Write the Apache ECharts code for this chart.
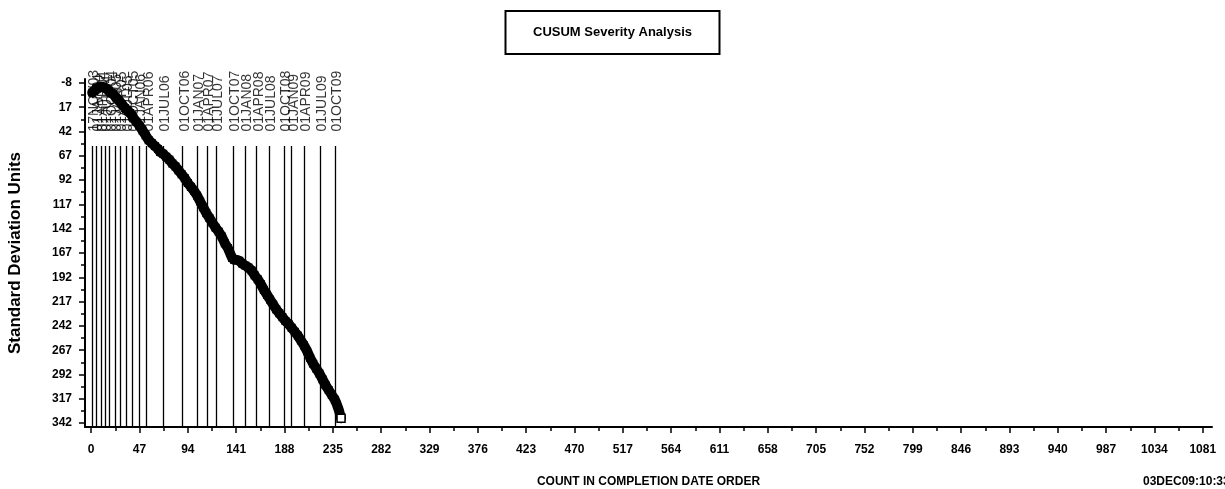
<!DOCTYPE html>
<html>
<head>
<meta charset="utf-8">
<script src="https://cdn.jsdelivr.net/npm/echarts@6/dist/echarts.min.js"></script>
<style>
  html, body { margin: 0; padding: 0; background: #fff; }
  #chart { width: 1225px; height: 489px; }
</style>
</head>
<body>
<div id="chart"></div>
<script>
// Cumulative severity sum, in standard deviation units, by completion count
const cusumPoints = [
  [1, 2], [3, 0], [5, -2], [7, -3], [9, -4], [11, -4], [13, -3], [15, -2],
  [17, 0], [19, 2], [21, 3], [24, 7], [27, 10], [30, 14], [33, 18], [36, 21],
  [38, 23], [41, 28], [44, 32], [47, 36], [50, 41], [53, 46], [56, 51], [59, 54],
  [62, 57], [65, 60], [67, 63], [70, 65], [73, 68], [76, 71], [79, 75], [82, 78],
  [85, 82], [88, 86], [91, 90], [94, 95], [97, 99], [100, 103], [103, 108], [106, 114],
  [109, 120], [112, 126], [115, 131], [118, 136], [121, 141], [124, 145], [127, 150], [130, 157],
  [133, 162], [135, 167], [137, 172], [139, 174], [141, 174], [144, 175], [147, 178], [150, 180],
  [153, 182], [156, 185], [159, 190], [162, 194], [165, 199], [168, 205], [171, 210], [174, 215],
  [177, 220], [180, 225], [183, 229], [186, 233], [189, 237], [192, 240], [195, 244], [198, 248],
  [201, 252], [204, 257], [207, 262], [210, 268], [213, 275], [216, 281], [219, 286], [222, 291],
  [225, 297], [228, 303], [231, 308], [234, 313], [237, 318], [239, 323], [241, 329], [243, 337]
];

// Quarter-start reference dates and the completion count where each falls
const refDates = [
  '17NOV03', '01JAN04', '01APR04', '01JUL04', '01OCT04', '01JAN05', '01APR05', '01JUL05',
  '01OCT05', '01JAN06', '01APR06', '01JUL06', '01OCT06', '01JAN07', '01APR07', '01JUL07',
  '01OCT07', '01JAN08', '01APR08', '01JUL08', '01OCT08', '01JAN09', '01APR09', '01JUL09', '01OCT09'
];
const refCounts = [
  1, 5, 10, 14, 18, 23, 28, 34,
  40, 47, 54, 70, 89, 103, 113, 122,
  138, 150, 161, 173, 188, 195, 207, 223, 237
];

// Axis tick values
const xTicks = [0, 47, 94, 141, 188, 235, 282, 329, 376, 423, 470, 517, 564, 611, 658, 705, 752, 799, 846, 893, 940, 987, 1034, 1081];
const xMinorTicks = [23.5, 70.5, 117.5, 164.5, 211.5, 258.5, 305.5, 352.5, 399.5, 446.5, 493.5, 540.5, 587.5, 634.5, 681.5, 728.5, 775.5, 822.5, 869.5, 916.5, 963.5, 1010.5, 1057.5];
const yTicks = [-8, 17, 42, 67, 92, 117, 142, 167, 192, 217, 242, 267, 292, 317, 342];
const yMinorTicks = [4.5, 29.5, 54.5, 79.5, 104.5, 129.5, 154.5, 179.5, 204.5, 229.5, 254.5, 279.5, 304.5, 329.5];

const FONT = '"Liberation Sans", Arial, sans-serif';
const REF_TOP = 57;     // upper end of the reference lines (y units)
const REF_LABEL_Y = 42; // base of the rotated date labels (y units)
const X_RANGE = [-6, 1090];
const Y_RANGE = [-12, 346];

const chart = echarts.init(document.getElementById('chart'), null, { renderer: 'canvas' });

const lastIdx = cusumPoints.length - 1;
const curveData = cusumPoints.map((p, i) => i === lastIdx
  ? { value: p, itemStyle: { color: '#fff', borderColor: '#000', borderWidth: 1.5 } }
  : { value: p });

const axisLineStyle = { color: '#000', width: 2 };
const tickLine = { color: '#000', width: 1.5 };
const gridBox = { left: 85, right: 13, top: 79, bottom: 62, containLabel: false, outerBoundsMode: 'none' };
const plain = v => String(v);

chart.setOption({
  animation: false,
  backgroundColor: '#fff',
  title: [
    {
      text: 'CUSUM Severity Analysis',
      left: 'center',
      top: 11,
      padding: [15, 28],
      borderWidth: 2,
      borderColor: '#000',
      textStyle: { fontFamily: FONT, fontSize: 13, fontWeight: 'bold', color: '#000' }
    },
    {
      text: '03DEC09:10:33',
      left: 1143,
      top: 476,
      padding: 0,
      textStyle: { fontFamily: FONT, fontSize: 12, fontWeight: 'bold', color: '#000' }
    }
  ],
  // grid 0 carries the data and major ticks; grid 1 overlays it for the minor ticks
  grid: [gridBox, Object.assign({}, gridBox)],
  xAxis: [
    {
      type: 'value',
      gridIndex: 0,
      min: X_RANGE[0],
      max: X_RANGE[1],
      position: 'bottom',
      name: 'COUNT IN COMPLETION DATE ORDER',
      nameLocation: 'middle',
      nameGap: 49,
      nameTextStyle: { fontFamily: FONT, fontSize: 12, fontWeight: 'bold', color: '#000' },
      axisLine: { show: true, onZero: false, lineStyle: axisLineStyle },
      axisTick: { show: true, length: 6, customValues: xTicks, lineStyle: tickLine },
      axisLabel: { show: true, customValues: xTicks, formatter: plain, margin: 17, fontFamily: FONT, fontSize: 12, fontWeight: 'bold', color: '#000' },
      splitLine: { show: false }
    },
    {
      type: 'value',
      gridIndex: 1,
      min: X_RANGE[0],
      max: X_RANGE[1],
      position: 'bottom',
      axisLine: { show: false, onZero: false },
      axisTick: { show: true, length: 4, customValues: xMinorTicks, lineStyle: tickLine },
      axisLabel: { show: false },
      splitLine: { show: false }
    }
  ],
  yAxis: [
    {
      type: 'value',
      gridIndex: 0,
      inverse: true,
      min: Y_RANGE[0],
      max: Y_RANGE[1],
      position: 'left',
      name: 'Standard Deviation Units',
      nameLocation: 'middle',
      nameGap: 61,
      nameTextStyle: { fontFamily: FONT, fontSize: 17, fontWeight: 'bold', color: '#000' },
      axisLine: { show: true, onZero: false, lineStyle: axisLineStyle },
      axisTick: { show: true, length: 6, customValues: yTicks, lineStyle: tickLine },
      axisLabel: { show: true, customValues: yTicks, formatter: plain, margin: 13, fontFamily: FONT, fontSize: 12, fontWeight: 'bold', color: '#000' },
      splitLine: { show: false }
    },
    {
      type: 'value',
      gridIndex: 1,
      inverse: true,
      min: Y_RANGE[0],
      max: Y_RANGE[1],
      position: 'left',
      axisLine: { show: false, onZero: false },
      axisTick: { show: true, length: 4, customValues: yMinorTicks, lineStyle: tickLine },
      axisLabel: { show: false },
      splitLine: { show: false }
    }
  ],
  series: [
    {
      // vertical reference lines with their rotated date labels
      type: 'scatter',
      xAxisIndex: 0,
      yAxisIndex: 0,
      symbolSize: 0,
      silent: true,
      data: refCounts.map(c => [c, REF_LABEL_Y]),
      label: {
        show: true,
        position: [2, 0],
        rotate: 90,
        align: 'left',
        verticalAlign: 'middle',
        fontFamily: FONT,
        fontSize: 14,
        color: '#000',
        formatter: p => refDates[p.dataIndex]
      },
      markLine: {
        silent: true,
        symbol: ['none', 'none'],
        label: { show: false },
        lineStyle: { color: '#000', width: 1.3, type: 'solid' },
        data: refCounts.map(c => [{ coord: [c, REF_TOP] }, { coord: [c, Y_RANGE[1]] }])
      }
    },
    {
      type: 'line',
      xAxisIndex: 0,
      yAxisIndex: 0,
      data: curveData,
      symbol: 'rect',
      symbolSize: 8,
      showSymbol: true,
      itemStyle: { color: '#000' },
      lineStyle: { color: '#000', width: 10, join: 'round', cap: 'round' },
      z: 5
    }
  ]
});
</script>
</body>
</html>
